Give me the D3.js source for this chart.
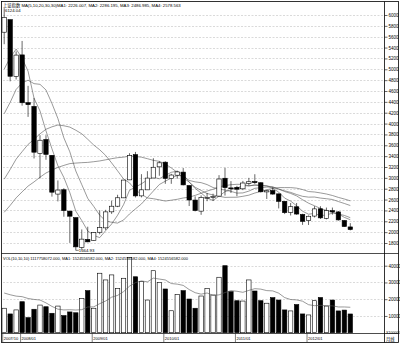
<!DOCTYPE html>
<html><head><meta charset="utf-8">
<script src="https://cdn.jsdelivr.net/npm/d3@7"></script>
<style>html,body{margin:0;padding:0;background:#fff}svg{display:block}</style>
</head><body>
<svg id="c" width="400" height="344"></svg>
<script>
const months = ["2007/10","2007/11","2007/12",
"2008/01","2008/02","2008/03","2008/04","2008/05","2008/06","2008/07","2008/08","2008/09","2008/10","2008/11","2008/12",
"2009/01","2009/02","2009/03","2009/04","2009/05","2009/06","2009/07","2009/08","2009/09","2009/10","2009/11","2009/12",
"2010/01","2010/02","2010/03","2010/04","2010/05","2010/06","2010/07","2010/08","2010/09","2010/10","2010/11","2010/12",
"2011/01","2011/02","2011/03","2011/04","2011/05","2011/06","2011/07","2011/08","2011/09","2011/10","2011/11","2011/12",
"2012/01","2012/02","2012/03","2012/04","2012/05","2012/06","2012/07","2012/08"];
const opens = [5683,5914,4868,
5265,4385,4316,3446,3706,3415,2701,2781,2388,2267,1719,1866,
1849,1998,2079,2374,2478,2632,2963,3428,2668,2779,2997,3203,
3289,2985,3049,3106,2859,2591,2387,2631,2640,2664,2993,2815,
2825,2798,2899,2932,2910,2741,2767,2705,2568,2363,2467,2326,
2212,2296,2430,2253,2396,2373,2214,2096];
const highs = [6124.04,5914,5330,
5522,4695,4472,3786,3786,3415,2952,2809,2390,2267,2050,2100,
2001,2402,2411,2580,2688,2959,3454,3478,3068,3123,3361,3306,
3306,3074,3128,3181,2859,2659,2677,2722,2708,3050,3186,2940,
2853,2944,3000,3067,2921,2775,2827,2710,2568,2536,2536,2339,
2307,2478,2478,2453,2453,2389,2219,2166];
const lows = [5462,4778,4812,
4330,4123,3357,2990,3333,2654,2566,2284,1802,1664.93,1678,1814,
1844,1960,2037,2336,2461,2628,2959,2639,2640,2779,2996,3039,
2890,2890,2985,2861,2481,2382,2319,2570,2573,2663,2674,2721,
2661,2774,2861,2888,2728,2611,2688,2437,2333,2307,2319,2134,
2132,2271,2242,2236,2322,2212,2100,2032];
const closes = [5954.77,4871.78,5261.56,
4383.39,4348.54,3472.71,3693.11,3433.35,2736.10,2775.72,2397.37,2293.78,1728.79,1871.16,1820.81,
1990.66,2082.85,2373.21,2477.57,2632.93,2959.36,3412.06,2667.75,2779.43,2995.85,3195.30,3277.14,
2989.29,3051.94,3109.10,2870.61,2592.15,2398.37,2637.50,2638.80,2655.66,2978.84,2820.18,2808.08,
2790.69,2905.05,2928.11,2911.51,2743.47,2762.08,2701.73,2567.34,2359.22,2468.25,2333.41,2199.42,
2292.61,2428.49,2262.79,2396.32,2372.23,2225.43,2103.63,2047.52];
const volumes = [14600,11200,13600,
18500,9000,14000,16500,15500,11600,15900,10200,12400,11900,20500,25100,
14600,35500,31500,34500,26500,32500,45000,33400,30500,19500,37000,29900,
26100,13100,22900,25100,20100,14600,21900,26500,22500,33100,40000,24500,
19100,18900,31500,24900,19100,17600,20900,19500,13600,13000,16800,11200,
10600,19100,21000,15900,19500,13000,13500,11180];
// closes / volumes before the first visible month (warm-up for the moving averages)
const priorCloses = [1060.74,1080.94,1083.03,1162.80,1155.61,1092.82,1099.26,1161.06,
1258.05,1299.03,1298.30,1440.22,1641.30,1672.21,1612.73,1658.64,1752.42,1837.99,2099.29,2675.47,
2786.34,2881.07,3183.98,3841.27,4109.65,3820.70,4471.03,5218.83,5552.30];
const priorVolumes = [21700,21700,21800,19800,19800,19900,32600,32600,32500];
const maPeriods = [5,10,20,30];
const volMaPeriod = 10;
const priceTicks = [1800,2000,2200,2400,2600,2800,3000,3200,3400,3600,3800,4000,4200,4400,4600,4800,5000,5200,5400,5600,5800,6000];
const volTicks = [10000,20000,30000,40000];
const dateLabels = ["2007/10","2008/01","2009/01","2010/01","2011/01","2012/01"];
const priceTitle = "上证指数 MA(5,10,20,30,30)MA1: 2226.007, MA2: 2286.195, MA3: 2486.985, MA4: 2578.563";
const volTitle = "VOL(10,10,10) 1117758072.000, MA1: 1524556582.000, MA2: 1524556582.000, MA4: 1524556582.000";
const highLabel = "6124.04", lowLabel = "1664.93";

const svg = d3.select("#c");
const FONT = "'Liberation Sans','Noto Sans CJK SC',sans-serif";
const axisX = 384.5;
const x = d3.scalePoint().domain(months).range([4.2, 350.3]);
const y = d3.scaleLinear().domain([1800, 6000]).range([243, 15]);
const yv = d3.scaleLinear().domain([0, 40000]).range([332.7, 265.7]);
const bw = 4.4;

// frame & panel separators
svg.append("rect").attr("x",1.5).attr("y",1.5).attr("width",397).attr("height",341)
  .attr("fill","none").attr("stroke","#000").attr("stroke-width",0.8);
svg.append("line").attr("x1",axisX).attr("x2",axisX).attr("y1",1.5).attr("y2",342.5).attr("stroke","#000").attr("stroke-width",0.8);
[253.5, 333.5].forEach(v => svg.append("line").attr("x1",1.5).attr("x2",398.5).attr("y1",v).attr("y2",v).attr("stroke","#000").attr("stroke-width",0.7));

// grids
const grid = svg.append("g").attr("stroke","#b4b4b4").attr("stroke-width",0.5).attr("stroke-dasharray","2,1.5");
priceTicks.forEach(t => grid.append("line").attr("x1",3).attr("x2",axisX).attr("y1",Math.round(y(t))+0.5).attr("y2",Math.round(y(t))+0.5));
volTicks.forEach(t => grid.append("line").attr("x1",3).attr("x2",axisX).attr("y1",Math.round(yv(t))+0.5).attr("y2",Math.round(yv(t))+0.5));

// axes
const ax1 = svg.append("g").attr("transform",`translate(${axisX},0)`)
  .call(d3.axisRight(y).tickValues(priceTicks).tickSize(3).tickPadding(1).tickFormat(d3.format("d")));
const ax2 = svg.append("g").attr("transform",`translate(${axisX},0)`)
  .call(d3.axisRight(yv).tickValues(volTicks).tickSize(3).tickPadding(1).tickFormat(d3.format("d")));
[ax1, ax2].forEach(a => {
  a.select(".domain").remove();
  a.selectAll("line").attr("stroke","#000").attr("stroke-width",0.6);
  a.selectAll("text").attr("font-family",FONT).attr("font-size",4.5).attr("fill","#000");
});
svg.append("text").attr("x",386).attr("y",334).attr("font-family",FONT).attr("font-size",3.6).text("X100000");

// moving averages
const allC = priorCloses.concat(closes);
const off = priorCloses.length;
const maLine = d3.line().x((d,i)=>x(months[i])).y(d=>y(d));
maPeriods.forEach(p => {
  const vals = closes.map((c,i) => d3.mean(allC.slice(off+i-p+1, off+i+1)));
  svg.append("path").attr("d", maLine(vals)).attr("fill","none").attr("stroke","#555").attr("stroke-width",0.6);
});

// candles
const cg = svg.append("g");
months.forEach((m,i) => {
  const cx = x(m), up = closes[i] >= opens[i];
  cg.append("line").attr("x1",cx).attr("x2",cx).attr("y1",y(highs[i])).attr("y2",y(lows[i])).attr("stroke","#000").attr("stroke-width",0.6);
  const top = y(Math.max(opens[i],closes[i])), bot = y(Math.min(opens[i],closes[i]));
  cg.append("rect").attr("x",cx-bw/2).attr("y",top).attr("width",bw).attr("height",Math.max(0.8,bot-top))
    .attr("fill", up ? "#fff" : "#000").attr("stroke","#000").attr("stroke-width",0.6);
});

// volume bars
const vg = svg.append("g");
months.forEach((m,i) => {
  const up = closes[i] >= opens[i];
  vg.append("rect").attr("x",x(m)-bw/2).attr("y",yv(volumes[i])).attr("width",bw).attr("height",yv(0)-yv(volumes[i]))
    .attr("fill", up ? "#fff" : "#000").attr("stroke","#000").attr("stroke-width",0.6);
});
const allV = priorVolumes.concat(volumes);
const voff = priorVolumes.length;
const vma = volumes.map((v,i) => d3.mean(allV.slice(voff+i-volMaPeriod+1, voff+i+1)));
svg.append("path").attr("d", d3.line().x((d,i)=>x(months[i])).y(d=>yv(d))(vma))
  .attr("fill","none").attr("stroke","#555").attr("stroke-width",0.6);

// texts
const txt = (s,xx,yy,fs) => svg.append("text").attr("x",xx).attr("y",yy).attr("font-family",FONT).attr("font-size",fs).attr("fill","#000").text(s);
svg.append("rect").attr("x",2).attr("y",2).attr("width",183).attr("height",5).attr("fill","#fff");
txt(priceTitle, 3, 6.5, 4.3);
txt(highLabel, 5, 12, 4.3);
const iLow = lows.indexOf(d3.min(lows));
svg.append("line").attr("x1",x(months[iLow])).attr("x2",x(months[iLow])+3).attr("y1",y(lows[iLow])).attr("y2",y(lows[iLow])).attr("stroke","#000").attr("stroke-width",0.5);
txt(lowLabel, x(months[iLow])+3, 251.5, 4.3);
txt(volTitle, 3, 259.5, 4);

// date row
dateLabels.forEach(d => {
  const xx = x(d);
  svg.append("line").attr("x1",xx-1.5).attr("x2",xx-1.5).attr("y1",333.5).attr("y2",342).attr("stroke","#000").attr("stroke-width",0.5);
  txt(d, xx-0.5, 340, 4);
});
txt("月线", 386, 340.5, 4.3);
</script>
</body></html>
